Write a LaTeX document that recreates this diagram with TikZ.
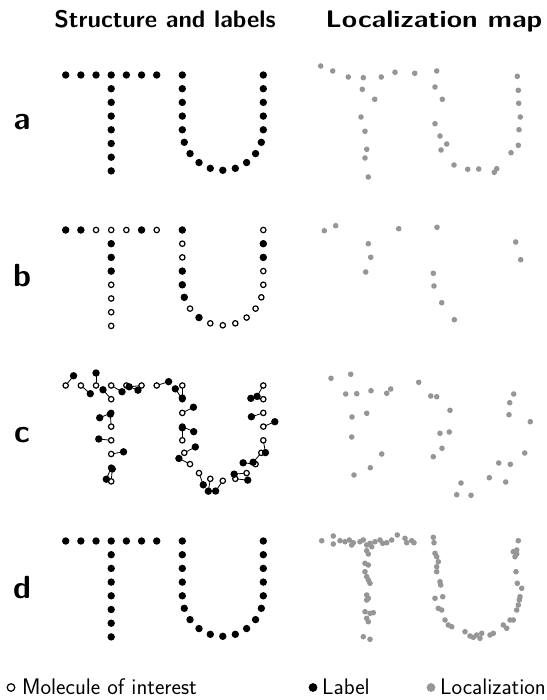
\documentclass[tikz,border=0pt]{standalone}
\usepackage{graphicx}
\usetikzlibrary{positioning,calc}
\definecolor{locgray}{RGB}{150,150,150}

% sites of the TU structure: T bar, T stem, U left, U arc, U right
\newcommand{\placesites}{%
  \foreach \i in {1,...,7}
    \coordinate (s\i) at ({65.7+15.17*(\i-1)},75);
  \foreach \i [evaluate=\i as \k using int(\i+7)] in {1,...,7}
    \coordinate (s\k) at (111.2,{75+13.7*\i});
  \foreach \i [evaluate=\i as \k using int(\i+15)] in {0,...,4}
    \coordinate (s\k) at (182.3,{75+13.7*\i});
  \foreach \i [evaluate=\i as \k using int(\i+19)] in {1,...,9}
    \coordinate (s\k) at ($(222.8,129.8)+({180-18*\i}:40.5)$);
  \foreach \i [evaluate=\i as \k using int(\i+29)] in {0,...,4}
    \coordinate (s\k) at (263.3,{129.8-13.7*\i});
}

\begin{document}
\begin{tikzpicture}[
    x=1pt, y=-1pt,
    lbl/.style={fill=black},
    mol/.style={draw=black, fill=white, line width=1.2pt},
    loc/.style={fill=locgray},
    link/.style={draw=black, line width=0.8pt},
    title/.style={font=\fontsize{24}{28}\selectfont\sffamily\bfseries, anchor=base},
    panel/.style={font=\fontsize{32}{38}\selectfont\sffamily\bfseries, anchor=base},
    key/.style={font=\fontsize{22.5}{26}\selectfont\sffamily, anchor=base west, inner sep=0pt},
]
    \useasboundingbox (0,0) rectangle (546,700);

    % Titles
    \node[title] (tstruct) at (165,28) {Structure and labels};
    \node[title] (tloc) at (434,28) {\scalebox{1.16}[1]{Localization map}};

    % Panel letters
    \node[panel] (pa) at (22,130) {a};
    \node[panel] (pb) at (22,286) {b};
    \node[panel] (pc) at (22,442) {c};
    \node[panel] (pd) at (22,598) {d};

    % a: every site labelled
    \begin{scope}
        \placesites
        \foreach \i in {1,...,33} \fill[lbl] (s\i) circle (3.7pt);
    \end{scope}
    \foreach \x/\y in {320.7/66, 332.7/71, 348.3/77, 363.3/77.7, 381.3/77, 395/72.3,
        414.7/73.3, 436.7/71, 362.3/89.3, 374.7/99.3, 361/117, 365/131.3, 366.7/149.3,
        365/158, 368.3/177, 435/87, 442.3/99.3, 435/123.7, 440/136, 446.7/144, 441/150,
        454/165, 467.7/169.3, 478.7/169, 496.7/168.7, 494.3/172.3, 511/152.7, 518.3/145.3,
        519/129.7, 520.3/117, 518.7/103.3, 518.3/90.3, 517.3/76.3}
        \fill[loc] (\x,\y) circle (2.8pt);

    % b: only some sites labelled
    \begin{scope}[shift={(0,155)}]
        \placesites
        \foreach \i in {1,...,33} \draw[mol] (s\i) circle (2.7pt);
        \foreach \i in {1,2,6,8,9,10,15,18,19,20,22,31,32} \fill[lbl] (s\i) circle (3.7pt);
    \end{scope}
    \foreach \x/\y in {324.3/230.7, 335.7/225.7, 398.7/228.7, 437/227.3, 368.3/243.7,
        370.7/257.3, 365.7/272, 433.3/273.3, 434/286, 441.7/302.7, 454.3/319.7,
        515.7/242, 520.7/259.7}
        \fill[loc] (\x,\y) circle (2.8pt);

    % c: labels on linkers
    \begin{scope}[shift={(0,310.5)}]
        \placesites
        \foreach \i/\a in {1/309, 2/41, 3/270, 4/30, 5/22, 6/174, 7/342, 8/229, 9/157,
            10/266, 11/186, 12/350, 13/113, 14/275, 15/90, 16/236, 17/333, 18/24,
            19/270, 20/332, 21/207, 22/70, 23/99, 24/125, 25/6, 26/175, 27/186,
            28/131, 29/80, 30/337, 31/162, 32/184, 33/120}
            \draw[link] (s\i) -- ++(\a:12.5) coordinate (l\i);
        \foreach \i in {1,...,33} \draw[mol] (s\i) circle (2.7pt);
        \foreach \i in {1,...,33} \fill[lbl] (l\i) circle (3.7pt);
    \end{scope}
    \foreach \x/\y in {331/378.3, 350.7/374.3, 345.7/394, 356.7/393.7, 371/390.7,
        386.7/393.3, 390.7/389, 418.7/382.3, 430.7/396, 436.7/396.7, 450/410.3,
        352/417, 366.7/413.3, 351.7/437, 381.7/454, 370.3/467.7, 354/475, 440/433.3,
        449.3/432, 442/448.3, 433.3/456.7, 461/483, 456.7/494.7, 471/495.3, 489.3/477.7,
        505.7/482, 498.7/463, 510.3/464.3, 524.7/453, 513.7/394, 509.7/402.7,
        509/414.7, 530.3/421.7}
        \fill[loc] (\x,\y) circle (2.8pt);

    % d: every site labelled, many localizations
    \begin{scope}[shift={(0,466)}]
        \placesites
        \foreach \i in {1,...,33} \fill[lbl] (s\i) circle (3.7pt);
    \end{scope}
    \foreach \x/\y in {321.7/540.7, 333.3/536, 333.3/544, 340/540.7, 345/541.7,
        349.3/540, 351.7/545, 353.3/542.7, 360/541.7, 363.3/540, 366.7/545, 370/543.3,
        371.7/546.7, 375/541.7, 380/540, 382.7/543.3, 386.7/542.7, 391.7/540, 397.3/535,
        405/538.3, 406.7/542.7, 411.7/540.7, 414/542.7,
        366.7/550.7, 368.3/554, 365/563.3, 368.3/565, 365/571.7, 366.7/576.7, 368.3/580,
        370/583.3, 366.7/595, 368.3/598.3, 366.7/600, 365/611.7, 370/613.3, 373.3/612.7,
        366.7/618.3, 368.3/621.7, 363.3/636.7, 370/639.3,
        433.3/537.3, 434/542.7, 435/553.3, 436.7/556.7, 438.3/561.7, 436.7/566.7,
        436.7/571.7, 440/581.7, 440.7/585, 435/598.3, 442.7/596.7, 438.3/608.3,
        441.7/610, 445/620, 448.3/625, 451.7/626.7, 465/631.7, 470/636, 473.3/637.3,
        476.7/635, 480/638.3, 481.7/633.3, 490/635, 493.3/633.3, 503.3/625, 506.7/628.3,
        510/620, 513.3/620,
        518.3/540.7, 513.3/551.7, 516.7/554, 515/556.7, 516.7/550, 516/571.7,
        517.3/583.3, 521.7/588.3, 520/596.7, 519.3/600, 518.3/605, 516.7/610}
        \fill[loc] (\x,\y) circle (2.8pt);

    % Legend
    \node[key] (kmol) at (22,694) {Molecule of interest};
    \node[key] (klbl) at (322,694) {Label};
    \node[key] (kloc) at (440,694) {Localization};
    \draw[mol] ($(kmol.base west)+(-11,-6.5)$) circle (3.8pt);
    \fill[lbl] ($(klbl.base west)+(-9,-6.5)$) circle (4.4pt);
    \fill[loc] ($(kloc.base west)+(-9,-6.5)$) circle (4.4pt);

\end{tikzpicture}
\end{document}
